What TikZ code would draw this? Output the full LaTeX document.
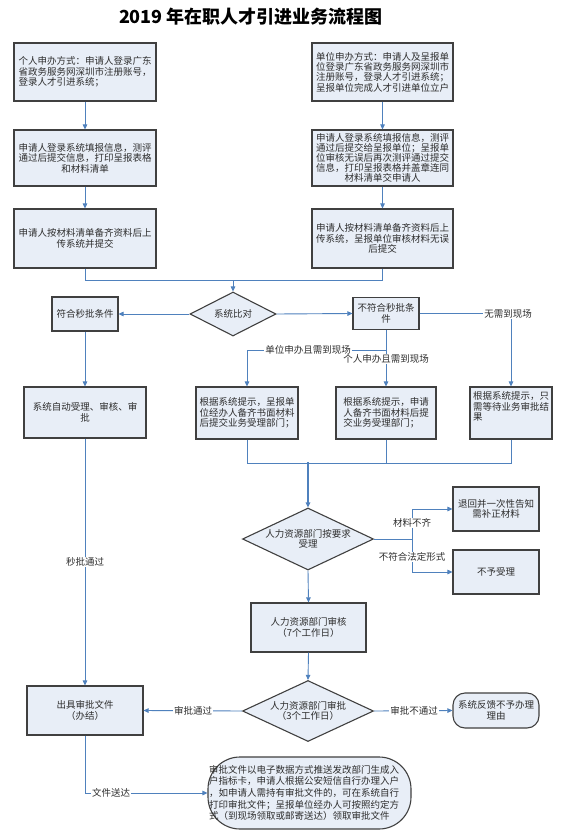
\documentclass[tikz,border=0pt]{standalone}
\usepackage{fontspec}
\setmainfont{Noto Sans CJK SC}
\usetikzlibrary{arrows.meta,shapes.geometric}
\definecolor{boxfill}{RGB}{232,238,247}
\definecolor{edgec}{RGB}{64,64,64}
\definecolor{connc}{RGB}{79,129,189}
\definecolor{txtc}{RGB}{45,45,45}
\begin{document}
\begin{tikzpicture}[x=1pt,y=-1pt,
  box/.style={draw=edgec, line width=1.1pt, fill=boxfill, inner sep=2pt, text=txtc,
    font=\fontsize{9.5}{10.4}\selectfont, align=center},
  lbox/.style={box, align=left},
  dia/.style={box, diamond, aspect=2.1, inner sep=0pt},
  rbox/.style={box, rounded corners=12pt},
  conn/.style={draw=connc, line width=0.9pt},
  arr/.style={-{Triangle[length=5pt,width=4.5pt]}},
  lbl/.style={fill=white, inner sep=1pt, text=txtc, font=\fontsize{9.5}{10.4}\selectfont}]
\useasboundingbox (0,0) rectangle (568,834);
\fill[white] (0,0) rectangle (568,834);

\node[font=\bfseries\fontsize{18}{20}\selectfont] (title) at (251,17) {2019 年在职人才引进业务流程图};

% top rows
\node[lbox, minimum width=142, minimum height=58] (b1L) at (85,72)
 {个人申办方式：申请人登录广东\\省政务服务网深圳市注册账号，\\登录人才引进系统；};
\node[box, minimum width=142, minimum height=56] (b2L) at (85,158)
 {申请人登录系统填报信息，测评\\通过后提交信息，打印呈报表格\\和材料清单};
\node[box, minimum width=142, minimum height=59] (b3L) at (85,238.5)
 {申请人按材料清单备齐资料后上\\传系统并提交};

\node[lbox, minimum width=141, minimum height=58] (b1R) at (382.5,72)
 {单位申办方式：申请人及呈报单\\位登录广东省政务服务网深圳市\\注册账号，登录人才引进系统；\\呈报单位完成人才引进单位立户};
\node[box, minimum width=141, minimum height=56, font=\fontsize{9.5}{10.1}\selectfont] (b2R) at (382.5,158)
 {申请人登录系统填报信息，测评\\通过后提交给呈报单位；呈报单\\位审核无误后再次测评通过提交\\信息，打印呈报表格并盖章连同\\材料清单交申请人};
\node[box, minimum width=141, minimum height=59] (b3R) at (382.5,238.5)
 {申请人按材料清单备齐资料后上\\传系统，呈报单位审核材料无误\\后提交};

% comparison
\node[dia, minimum width=86, minimum height=44] (d1) at (233,314) {系统比对};
\node[box, minimum width=66, minimum height=34] (fit) at (85,314) {符合秒批条件};
\node[box, minimum width=66, minimum height=32] (nfit) at (386,313.5) {不符合秒批条\\件};

% row of four
\node[box, minimum width=122, minimum height=51] (auto) at (85,412.5) {系统自动受理、审核、审\\批};
\node[lbox, minimum width=102, minimum height=52] (unit) at (247,413)
 {根据系统提示，呈报单\\位经办人备齐书面材料\\后提交业务受理部门；};
\node[lbox, minimum width=100, minimum height=52] (person) at (386,413)
 {根据系统提示，申请\\人备齐书面材料后提\\交业务受理部门；};
\node[lbox, minimum width=82, minimum height=52] (wait) at (511,413)
 {根据系统提示，只\\需等待业务审批结\\果\\[3pt]};

% acceptance
\node[dia, minimum width=131, minimum height=62] (d2) at (308,539) {人力资源部门按要求\\受理};
\node[box, minimum width=86, minimum height=44] (back) at (496,509) {退回并一次性告知\\需补正材料};
\node[box, minimum width=86, minimum height=44] (reject) at (496,572) {不予受理};

\node[box, minimum width=115, minimum height=49] (audit) at (308.5,627.5) {人力资源部门审核\\（7个工作日）};
\node[dia, minimum width=131, minimum height=61] (d3) at (308,711) {人力资源部门审批\\（3个工作日）};
\node[box, minimum width=116, minimum height=49] (issue) at (85,710.5) {出具审批文件\\（办结）};
\node[rbox, minimum width=86, minimum height=35] (fb) at (496,710.5) {系统反馈不予办理\\理由};

\node[box, rounded corners=32pt, minimum width=203, minimum height=72] (final) at (309.5,793) {};
\node[anchor=west, inner sep=0pt, align=left, text=txtc, font=\fontsize{9.5}{11.7}\selectfont] (finaltext) at (209,793)
 {审批文件以电子数据方式推送发改部门生成入\\户指标卡，申请人根据公安短信自行办理入户\\，如申请人需持有审批文件的，可在系统自行\\打印审批文件；呈报单位经办人可按照约定方\\式（到现场领取或邮寄送达）领取审批文件};

% connectors, top
\draw[conn,arr] (b1L) -- (b2L);
\draw[conn,arr] (b2L) -- (b3L);
\draw[conn,arr] (b1R) -- (b2R);
\draw[conn,arr] (b2R) -- (b3R);
\coordinate (m1) at (233,280);
\draw[conn] (b3L.south) -- ++(0,12) -| (b3R.south);
\draw[conn,arr] (m1) -- (d1.north);
\draw[conn,arr] (d1.west) -- (fit.east);
\draw[conn,arr] (d1.east) -- (nfit.west);
\draw[conn,arr] (fit.south) -- (auto.north);

\draw[conn,arr] (nfit.east) -| (wait.north);
\node[lbl] (l1) at (508,313.5) {无需到现场};
\coordinate (c2) at (386,350);
\draw[conn] (nfit.south) -- (c2);
\draw[conn,arr] (c2) -| (unit.north);
\draw[conn,arr] (c2) -- (person.north);
\node[lbl] (l2) at (308,350) {单位申办且需到现场};
\node[lbl] (l3) at (386,359) {个人申办且需到现场};

% merge to acceptance
\coordinate (m2) at (308,462);
\draw[conn] (unit.south) -- ++(0,23.5) -| (wait.south);
\draw[conn] (person.south) -- ++(0,23.5);
\draw[conn,arr,line width=1.3pt] (m2) -- (d2.north);

\coordinate (c3) at (412,539);
\draw[conn] (d2.east) -- (c3);
\draw[conn,arr] (c3) |- (back.west);
\draw[conn,arr] (c3) |- (reject.west);
\node[lbl] (l4) at (412,523) {材料不齐};
\node[lbl] (l5) at (412,557) {不符合法定形式};

\draw[conn,arr] (d2.south) -- (audit.north);
\draw[conn,arr] (audit.south) -- (d3.north);
\draw[conn,arr] (d3.west) -- (issue.east);
\node[lbl] (l6) at (193,711) {审批通过};
\draw[conn,arr] (d3.east) -- (fb.west);
\node[lbl] (l7) at (414,711) {审批不通过};

\draw[conn,arr] (auto.south) -- (issue.north);
\node[lbl] (l8) at (85,562) {秒批通过};
\draw[conn,arr] (issue.south) |- (final.west);
\node[lbl] (l9) at (111,793) {文件送达};
\end{tikzpicture}
\end{document}
